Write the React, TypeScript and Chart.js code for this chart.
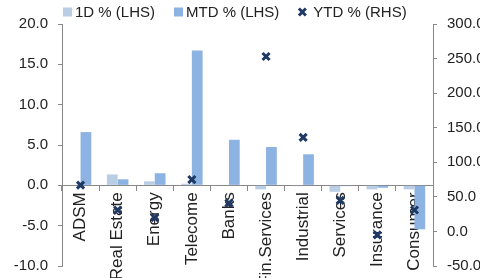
import React, { useEffect, useRef } from "react";
import { Chart, registerables } from "chart.js";

Chart.register(...registerables);

const categories = ["ADSM", "Real Estate", "Energy", "Telecome", "Banks", "Fin.Services", "Industrial", "Services", "Insurance", "Consumer"];
const oneDay = [0.05, 1.35, 0.5, 0.2, 0.05, -0.5, -0.1, -0.8, -0.5, -0.5];
const mtd = [6.6, 0.75, 1.5, 16.7, 5.65, 4.75, 3.85, -0.1, -0.3, -5.45];
const ytd = [67, 31, 20, 75, 41, 253, 136, 45, -5, 31];

const FONT = "'Liberation Sans', Arial, sans-serif";
const C1D = "#B9CDE5";
const CMTD = "#8DB3E2";
const CYTD = "#1F3864";

const legendPlugin = {
  id: "customLegend",
  afterDraw(chart: any) {
    const ctx = chart.ctx as CanvasRenderingContext2D;
    const ds = chart.data.datasets;
    ctx.save();
    ctx.font = `15px ${FONT}`;
    ctx.textBaseline = "middle";
    ctx.textAlign = "left";
    const y = 12;
    let x = chart.chartArea.left + 1;
    ds.forEach((d: any) => {
      if (d.type === "line") {
        ctx.strokeStyle = d.borderColor;
        ctx.lineWidth = 3;
        ctx.beginPath();
        ctx.moveTo(x + 0.5, y - 3.5);
        ctx.lineTo(x + 7.5, y + 3.5);
        ctx.moveTo(x + 7.5, y - 3.5);
        ctx.lineTo(x + 0.5, y + 3.5);
        ctx.stroke();
        x += 15;
      } else {
        ctx.fillStyle = d.backgroundColor;
        ctx.fillRect(x, y - 4.5, 9, 9);
        x += 12;
      }
      ctx.fillStyle = "#222";
      ctx.fillText(d.label, x, y + 1);
      x += ctx.measureText(d.label).width + 19;
    });
    ctx.restore();
  },
};

const noPad = (s: any) => { s.paddingTop = 0; s.paddingBottom = 0; };

export default function App() {
  const ref = useRef<HTMLCanvasElement>(null);
  useEffect(() => {
    if (!ref.current) return;
    const chart = new Chart(ref.current, {
      type: "bar",
      data: {
        labels: categories,
        datasets: [
          { label: "1D % (LHS)", data: oneDay, backgroundColor: C1D, yAxisID: "y", order: 2 } as any,
          { label: "MTD % (LHS)", data: mtd, backgroundColor: CMTD, yAxisID: "y", order: 2 } as any,
          { type: "line", label: "YTD % (RHS)", data: ytd, yAxisID: "y1", showLine: false, pointStyle: "crossRot", pointRadius: 5, pointBorderWidth: 3, borderWidth: 3, borderColor: CYTD, backgroundColor: CYTD, order: 1 } as any,
        ],
      },
      options: {
        responsive: false,
        animation: false,
        layout: { padding: { top: 24, bottom: 12, left: 0, right: 0 } },
        datasets: { bar: { categoryPercentage: 0.58, barPercentage: 1.0 } } as any,
        plugins: { legend: { display: false }, tooltip: { enabled: false } },
        scales: {
          x: {
            position: { y: 0 } as any,
            grid: { offset: true, drawOnChartArea: false, drawTicks: true, tickLength: 5, color: "#888" },
            border: { color: "#888" },
            ticks: { autoSkip: false, minRotation: 90, maxRotation: 90, padding: 2, color: "#222", font: { family: FONT, size: 17 } },
            afterFit: (s: any) => { s.height = 0; noPad(s); s.paddingLeft = 0; s.paddingRight = 0; },
          },
          y: {
            position: "left", min: -10, max: 20,
            ticks: { stepSize: 5, color: "#222", padding: 10, font: { family: FONT, size: 15 }, callback: (v: any) => Number(v).toFixed(1) },
            grid: { drawOnChartArea: false, tickLength: 4, color: "#888" },
            border: { color: "#888" },
            afterFit: (s: any) => { s.width = 62; noPad(s); },
          },
          y1: {
            position: "right", min: -50, max: 300,
            ticks: { stepSize: 50, color: "#222", padding: 10, font: { family: FONT, size: 15 }, callback: (v: any) => Number(v).toFixed(1) },
            grid: { drawOnChartArea: false, tickLength: 4, color: "#888" },
            border: { color: "#888" },
            afterFit: (s: any) => { s.width = 47; noPad(s); },
          },
        },
      },
      plugins: [legendPlugin],
    });
    return () => chart.destroy();
  }, []);
  return (
    <div style={{ position: "fixed", left: 0, top: 0, width: 480, height: 278, background: "#fff" }}>
      <canvas ref={ref} width={480} height={278} style={{ display: "block" }} />
    </div>
  );
}
